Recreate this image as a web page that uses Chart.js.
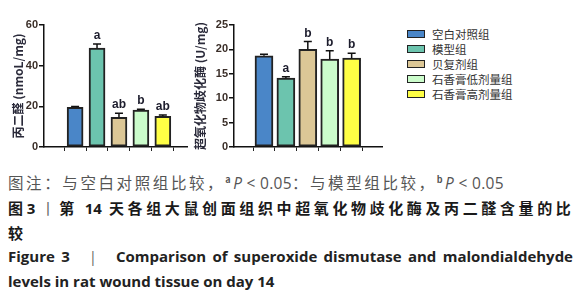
<!DOCTYPE html>
<html>
<head>
<meta charset="utf-8">
<script src="https://cdn.jsdelivr.net/npm/chart.js@4.4.1/dist/chart.umd.min.js"></script>
<style>
  body { margin: 0; width: 583px; height: 300px; background: #fff; position: relative; overflow: hidden; }
  .cv { position: absolute; top: 0; }
  #legend { position: absolute; left: 407px; top: 26px; font: 11.5px "Noto Sans CJK SC", sans-serif; color: #333; }
  #legend .row { height: 15.2px; display: flex; align-items: center; }
  #legend .box { width: 16px; height: 6px; border: 1.5px solid #222; margin-right: 7px; }
  .cap { position: absolute; left: 8px; width: 565px; white-space: nowrap; font-family: "Noto Sans CJK SC", sans-serif; }
  #c1 { top: 171px; font-size: 15.5px; color: #555; letter-spacing: 2.6px; }
  #c1 .en { letter-spacing: 0.3px; }
  #c2 { top: 197px; font-size: 15px; font-weight: bold; color: #1a1a1a; letter-spacing: 2.2px; text-align: justify; text-align-last: justify; }
  #c2 .en { letter-spacing: 0; }
  #c3 { top: 222px; font-size: 15px; font-weight: bold; color: #1a1a1a; }
  #c4 { top: 246px; font: bold 15px "Open Sans", sans-serif; color: #222; text-align: justify; text-align-last: justify; }
  #c5 { top: 271px; font: bold 15px "Open Sans", sans-serif; color: #222; }
  .en { font-family: "Open Sans", sans-serif; }
  .bar { color: #666; font-weight: normal; }
</style>
</head>
<body>
<canvas id="mda" class="cv" style="left:0px" width="195" height="160"></canvas>
<canvas id="sod" class="cv" style="left:190px" width="200" height="160"></canvas>
<div id="legend"></div>
<div class="cap" id="c1">图注：与空白对照组比较，<sup style="font-size:9px;font-weight:bold">a</sup><i class="en">P</i><span class="en"> &lt; 0.05</span>：与模型组比较，<sup style="font-size:9px;font-weight:bold">b</sup><i class="en">P</i><span class="en"> &lt; 0.05</span></div>
<div class="cap" id="c2">图<span class="en">3 </span><span class="bar">丨</span>第 <span class="en">14</span> 天各组大鼠创面组织中超氧化物歧化酶及丙二醛含量的比</div>
<div class="cap" id="c3">较</div>
<div class="cap" id="c4">Figure 3 &nbsp; <span class="bar">|</span> &nbsp; Comparison of superoxide dismutase and malondialdehyde</div>
<div class="cap" id="c5">levels in rat wound tissue on day 14</div>
<script>
const groups = ['空白对照组', '模型组', '贝复剂组', '石香膏低剂量组', '石香膏高剂量组'];
const colors = ['#4a86c8', '#6cc4ae', '#dcc796', '#cbfccb', '#ffff45'];

const mdaValues = [19.5, 48.6, 14.6, 18.2, 15.1];
const mdaErrors = [0.4, 2.0, 2.0, 0.4, 0.6];
const mdaMarks = ['', 'a', 'ab', 'b', 'ab'];
const mdaTicks = [0, 20, 40, 60];

const sodValues = [18.7, 14.1, 20.0, 18.0, 18.2];
const sodErrors = [0.3, 0.3, 1.6, 1.7, 1.0];
const sodMarks = ['', 'a', 'b', 'b', 'b'];
const sodTicks = [0, 5, 10, 15, 20, 25];

// legend
const legendEl = document.getElementById('legend');
groups.forEach((g, i) => {
  legendEl.innerHTML += `<div class="row"><span class="box" style="background:${colors[i]}"></span>${g}</div>`;
});

// error bars + significance letters
const errorBars = {
  id: 'errorBars',
  afterDatasetsDraw(chart, args, opts) {
    const { ctx, scales: { x, y } } = chart;
    const vals = chart.data.datasets[0].data;
    ctx.save();
    ctx.strokeStyle = '#111';
    ctx.lineWidth = 1.5;
    vals.forEach((p, i) => {
      const px = x.getPixelForValue(p.x);
      const top = y.getPixelForValue(p.y + opts.errors[i]);
      const base = y.getPixelForValue(p.y);
      ctx.beginPath();
      ctx.moveTo(px, base);
      ctx.lineTo(px, top);
      ctx.moveTo(px - 4, top);
      ctx.lineTo(px + 4, top);
      ctx.stroke();
      if (opts.marks[i]) {
        ctx.fillStyle = '#1c1c2c';
        ctx.font = 'bold 12px "Liberation Sans", Arial, sans-serif';
        ctx.textAlign = 'center';
        ctx.textBaseline = 'alphabetic';
        ctx.fillText(opts.marks[i], px, top - 5);
      }
    });
    ctx.restore();
  }
};

function makeChart(id, values, errors, marks, ticks, title, xMin, xMax, barW, titlePad) {
  const canvas = document.getElementById(id);
  const ctx = canvas.getContext('2d');
  const axisFont = { family: '"Liberation Sans", Arial, sans-serif', size: 11, weight: 'bold' };
  return new Chart(ctx, {
    type: 'bar',
    data: {
      datasets: [{
        data: values.map((v, i) => ({ x: i + 1, y: v })),
        backgroundColor: colors,
        borderColor: '#222',
        borderWidth: 2,
        borderSkipped: false,
        barThickness: barW,
      }],
    },
    options: {
      responsive: false,
      animation: false,
      layout: { padding: { left: 0, right: 8, top: 25, bottom: canvas.height - 147 - 6 } },
      plugins: {
        legend: { display: false },
        tooltip: { enabled: false },
        errorBars: { errors, marks },
      },
      scales: {
        x: {
          type: 'linear',
          min: xMin,
          max: xMax,
          afterBuildTicks: (s) => { s.ticks = values.map((_, i) => ({ value: i + 1 })); },
          afterFit: (s) => { s.height = 6; },
          ticks: { display: false },
          grid: { drawOnChartArea: false, drawTicks: true, tickLength: 4, color: '#222', lineWidth: 1 },
          border: { color: '#111', width: 1.5 },
        },
        y: {
          min: 0,
          max: ticks[ticks.length - 1],
          afterBuildTicks: (s) => { s.ticks = ticks.map((v) => ({ value: v })); },
          afterFit: (s) => { s.width = 44; },
          ticks: { font: axisFont, color: '#3a2e28', padding: 1 },
          grid: { drawOnChartArea: false, drawTicks: true, tickLength: 5, color: '#111', lineWidth: 1.5 },
          border: { color: '#111', width: 1.5 },
          title: {
            display: true,
            text: title,
            color: '#2a2a3a',
            font: { family: '"Noto Sans CJK SC", sans-serif', size: 12, weight: 'bold' },
            padding: { top: titlePad, bottom: 0 },
          },
        },
      },
    },
    plugins: [errorBars],
  });
}

makeChart('mda', mdaValues, mdaErrors, mdaMarks, mdaTicks, '丙二醛 (nmoL/mg)', 0.234, 5.45, 16, 11);
makeChart('sod', sodValues, sodErrors, sodMarks, sodTicks, '超氧化物歧化酶 (U/mg)', 0.307, 5.71, 18, 3);
</script>
</body>
</html>
